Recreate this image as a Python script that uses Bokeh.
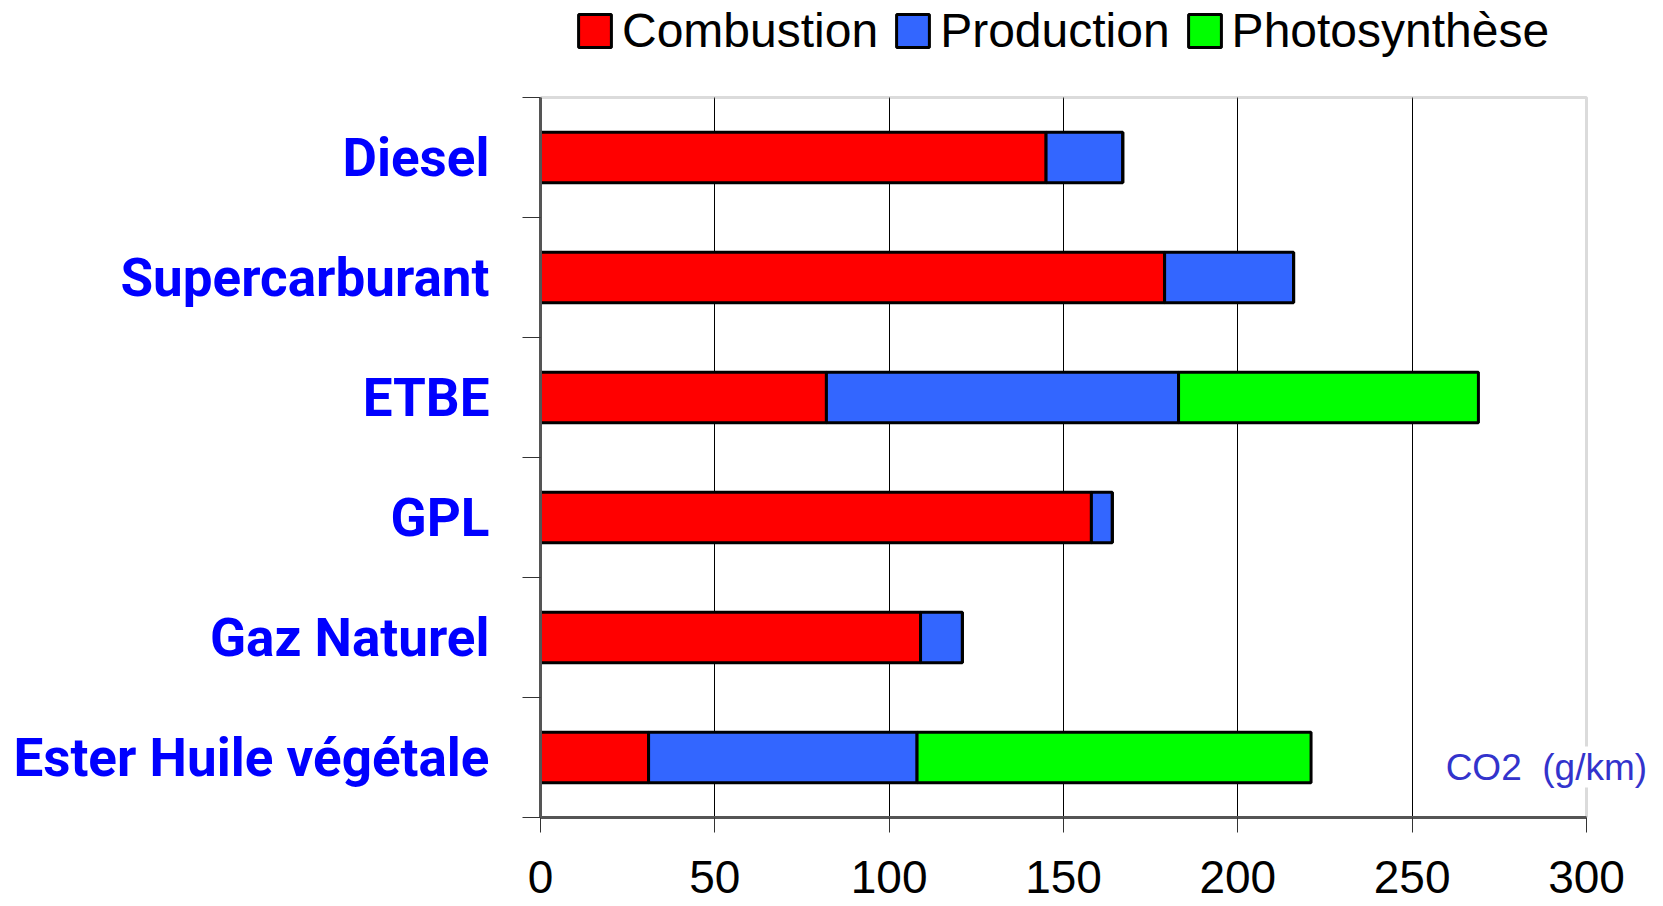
from bokeh.plotting import figure
from bokeh.models import (ColumnDataSource, Range1d, FixedTicker, Legend, LegendItem, Label,
                          BoxAnnotation, Grid)
from bokeh.embed import file_html
from bokeh.resources import INLINE

categories = ["Diesel", "Supercarburant", "ETBE", "GPL", "Gaz Naturel", "Ester Huile végétale"]
combustion = [145, 179, 82, 158, 109, 31]
production = [22, 37, 101, 6, 12, 77]
photosynthese = [0, 0, 86, 0, 0, 113]
series_names = ["Combustion", "Production", "Photosynthèse"]
colors = ["#FF0000", "#3366FF", "#00FF00"]
x_ticks = [0, 50, 100, 150, 200, 250, 300]
unit_label = "CO2  (g/km)"

n = len(categories)
x_max = x_ticks[-1]
ypos = [n - 1 - i + 0.5 for i in range(n)]
source = ColumnDataSource(dict(y=ypos, cat=categories, combustion=combustion,
                               production=production, photosynthese=photosynthese))

# layout: plot area spans 1046 x 720 px; the frame is extended up and right to host legend/unit text
W, H = 1663, 906
left_b, bottom_b = 540, 89
plot_w, plot_h = 1046, 720
frame_w, frame_h = W - left_b, H - bottom_b

p = figure(width=W, height=H, output_backend="svg", toolbar_location=None,
           x_range=Range1d(0, x_max * frame_w / plot_w), y_range=Range1d(0, n * frame_h / plot_h),
           min_border_left=left_b, min_border_right=0, min_border_top=0, min_border_bottom=bottom_b)
p.outline_line_color = None

renderers = p.hbar_stack(["combustion", "production", "photosynthese"], y="y", height=0.42,
                         color=colors, source=source, line_color="black", line_width=3)

# x axis
xa = p.xaxis[0]
xa.bounds = (0, x_max)
xa.ticker = FixedTicker(ticks=x_ticks, minor_ticks=[])
xa.major_tick_out = 15
xa.major_tick_in = 0
xa.minor_tick_out = 0
xa.axis_line_color = "#555555"
xa.axis_line_width = 3
xa.major_tick_line_color = "#333333"
xa.major_tick_line_width = 1
xa.major_label_text_font = "Liberation Sans"
xa.major_label_text_font_size = "46px"
xa.major_label_text_color = "black"
xa.major_label_text_line_height = 0.6
xa.axis_label_standoff = 0
xa.major_label_standoff = 28

# y axis (category labels at centres, boundary ticks as minor ticks)
ya = p.yaxis[0]
ya.bounds = (0, n)
ya.ticker = FixedTicker(ticks=ypos, minor_ticks=list(range(n + 1)))
ya.major_label_overrides = {y: c for y, c in zip(ypos, categories)}
ya.major_tick_out = 0
ya.major_tick_in = 0
ya.minor_tick_out = 18
ya.minor_tick_in = 0
ya.minor_tick_line_color = "#333333"
ya.minor_tick_line_width = 1
ya.axis_line_color = "#555555"
ya.axis_line_width = 3
ya.major_label_text_font = "Roboto"
ya.major_label_text_font_style = "bold"
ya.major_label_text_font_size = "53px"
ya.major_label_text_color = "#0000FF"
ya.major_label_standoff = 33

p.ygrid.grid_line_color = None
p.xgrid.ticker = FixedTicker(ticks=x_ticks[1:-1])
p.xgrid.grid_line_color = "black"
p.xgrid.grid_line_width = 1
if "cross_bounds" in Grid.properties():
    p.xgrid.cross_bounds = (0, n)
else:
    p.xgrid.grid_line_color = None
    p.segment(x0=x_ticks[1:-1], x1=x_ticks[1:-1], y0=0, y1=n, line_color="black", line_width=1,
              level="underlay")

# plot-area border (top and right in grey)
p.add_layout(BoxAnnotation(left=0, right=x_max, bottom=0, top=n, fill_alpha=0,
                           line_color="#888888", line_width=3, level="underlay"))

legend = Legend(items=[LegendItem(label=s, renderers=[r]) for s, r in zip(series_names, renderers)],
                orientation="horizontal", location=(34, 759),
                glyph_width=41, glyph_height=41, label_text_font="Liberation Sans",
                label_text_font_size="48px", label_text_color="black",
                label_standoff=7, spacing=14,
                border_line_color=None, background_fill_alpha=0, padding=0, margin=0)
p.add_layout(legend)

lab = Label(x=259.6, y=0.42, text=unit_label.replace("  ", " \u00a0"), text_font="Liberation Sans",
            text_font_size="37px", text_color="#3333CC", text_baseline="middle",
            background_fill_color="white")
p.add_layout(lab)

open("out.html", "w").write(file_html(p, INLINE))
